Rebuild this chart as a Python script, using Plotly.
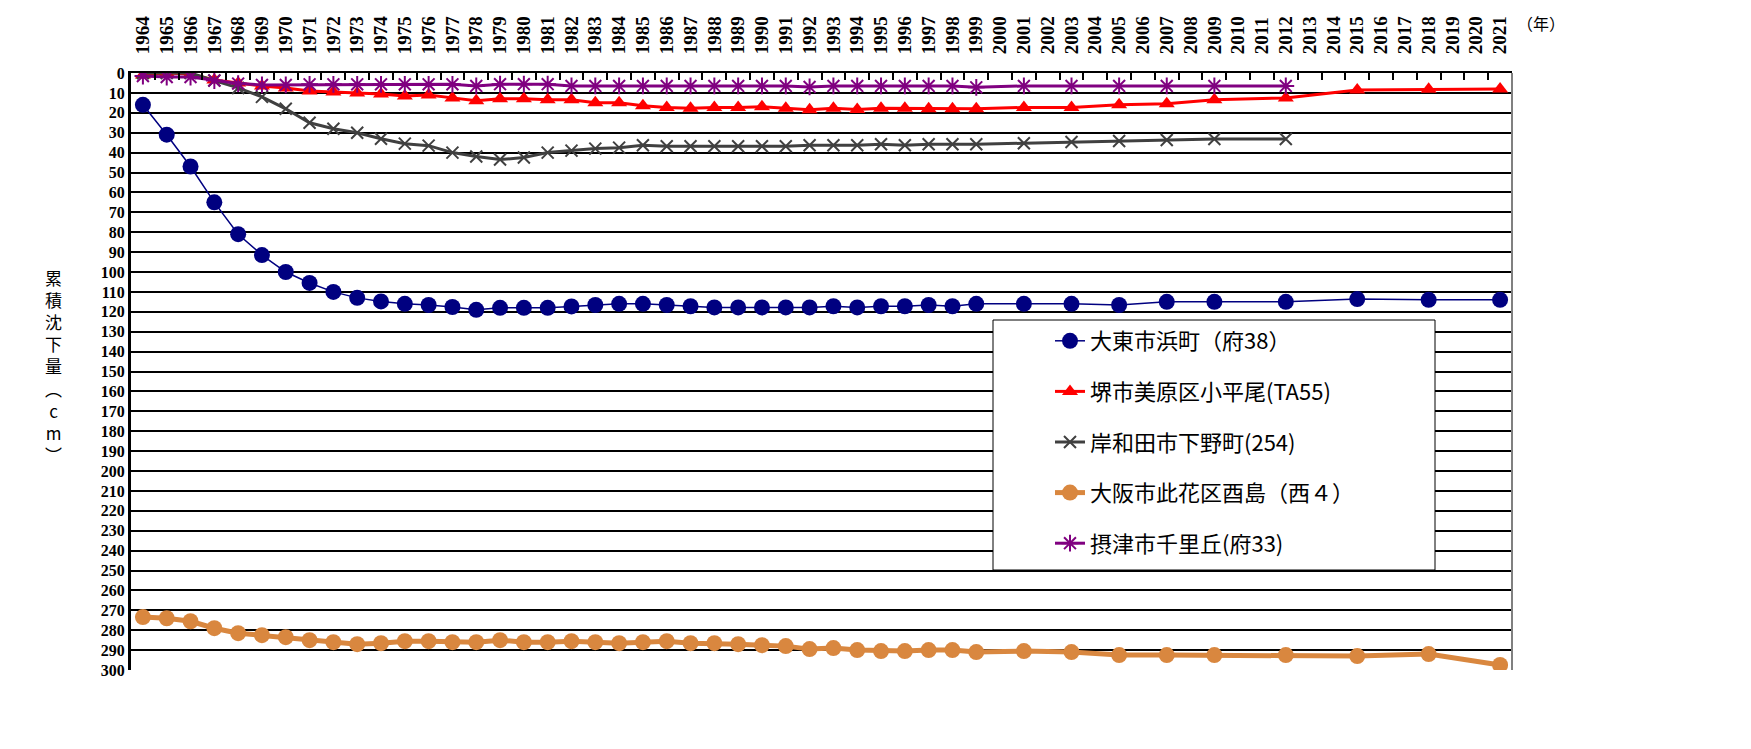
import plotly.graph_objects as go

years = list(range(1964, 2022))
year_labels = [str(y) for y in years]
y_ticks = list(range(0, 301, 10))

series_names = ["大東市浜町（府38）", "堺市美原区小平尾(TA55)", "岸和田市下野町(254)",
                "大阪市此花区酉島（西４）", "摂津市千里丘(府33)"]

N = None
# 1964 ... 1999 (36 values), then 2000 ... 2021
daito = [16, 31, 47, 65, 81, 91.5, 100, 105.5, 110, 113, 114.8, 116, 116.6, 117.6, 119, 118, 118, 118,
         117.3, 116.6, 116, 116, 116.6, 117.2, 117.8, 117.8, 117.8, 117.8, 117.8, 117.2, 117.8, 117.2,
         117.2, 116.6, 117.2, 116,
         N, 116, N, 116, N, 116.6, N, 115, N, 115, N, N, 115, N, N, 113.6, N, N, 114, N, N, 114]
sakai = [1, 0, 0.5, 3.5, 5, 6.5, 7.5, 9, 9.5, 10, 10.5, 11.5, 11, 12.5, 14, 13, 13, 13.5,
         13.5, 15, 15, 16.5, 17.3, 17.7, 17.3, 17.3, 17, 17.7, 18.5, 17.7, 18.3, 17.7,
         17.7, 18, 18, 18,
         N, 17.3, N, 17.3, N, 16, N, 15.5, N, 13.5, N, N, 12.5, N, N, 8.5, N, N, 8.2, N, N, 8]
kishiwada = [0, 0, 0, 3.8, 7.5, 12, 18, 25, 28, 30, 33, 35.5, 36.5, 40, 42, 43.5, 42.5, 40,
             39, 38, 37.5, 36.3, 36.8, 36.8, 36.8, 36.8, 36.8, 36.8, 36.3, 36.3, 36.3, 35.8,
             36.3, 35.8, 35.8, 35.8,
             N, 35.3, N, 34.7, N, 34.2, N, 33.7, N, 33.2, N, N, 33.2, N, N, N, N, N, N, N, N, N]
osaka = [273.4, 274, 275.5, 279, 281.5, 282.5, 283.5, 285, 286, 287, 286.5, 285.5, 285.5, 286, 286, 285,
         286, 286, 285.5, 286, 286.5, 286, 285.5, 286.5, 286.5, 287, 287.5, 288, 289.5, 289, 290, 290.5,
         290.5, 290, 290, 291,
         N, 290.5, N, 291, N, 292.5, N, 292.5, N, 292.5, N, N, 292.5, N, N, 293, N, N, 292, N, N, 297.5]
settsu = [1.5, 2, 2, 3.8, 5.3, 6, 6, 5.7, 5.7, 5.7, 5.7, 5.7, 5.7, 5.7, 6.5, 5.6, 5.6, 5.6,
          6.5, 6.5, 6.5, 6.5, 6.5, 6.5, 6.5, 6.5, 6.5, 6.5, 7, 6.5, 6.5, 6.5,
          6.5, 6.5, 6.5, 7.2,
          N, 6.5, N, 6.5, N, 6.5, N, 6.5, N, 6.5, N, N, 6.5, N, N, N, N, N, N, N, N, N]

styles = [
    dict(color="#000080", width=1.5, symbol="circle", size=16, mlw=0),
    dict(color="#FF0000", width=3, symbol="triangle-up", size=14, mlw=0),
    dict(color="#404040", width=3, symbol="x-thin-open", size=12, mlw=2),
    dict(color="#D9873F", width=5, symbol="circle", size=16, mlw=0),
    dict(color="#800080", width=3, symbol="asterisk-open", size=14, mlw=2),
]

fig = go.Figure()
for name, vals, st in zip(series_names, [daito, sakai, kishiwada, osaka, settsu], styles):
    fig.add_trace(go.Scatter(
        x=year_labels, y=vals, name=name, legendgroup=name, mode="lines+markers",
        connectgaps=True,
        line=dict(color=st["color"], width=st["width"]),
        marker=dict(symbol=st["symbol"], size=st["size"], color=st["color"],
                    line=dict(color=st["color"], width=st["mlw"])),
    ))

W, H = 1751, 749
L, R, T, B = 123, 1504, 65, 662
pw, ph = R - L, B - T

def px(x):
    return (x - L) / pw

def py(y):
    return (B - y) / ph

fig.update_layout(
    width=W, height=H,
    margin=dict(l=L, r=W - R, t=T, b=H - B, pad=0),
    paper_bgcolor="white", plot_bgcolor="white",
    showlegend=True,
    legend=dict(x=px(1042), y=py(312), xanchor="left", yanchor="top",
                bgcolor="rgba(0,0,0,0)", borderwidth=0,
                font=dict(family="Noto Sans CJK JP", size=22, color="black"),
                tracegroupgap=19),
    xaxis=dict(type="category", categoryorder="array", categoryarray=year_labels,
               range=[-0.5, len(year_labels) - 0.5], autorange=False, automargin=False,
               tickmode="array", tickvals=year_labels, ticktext=year_labels,
               side="top", tickangle=-90, tickson="boundaries",
               ticks="inside", ticklen=7, tickwidth=1.5, tickcolor="black",
               showline=True, linecolor="black", linewidth=2, showgrid=False,
               tickfont=dict(family="Liberation Serif", size=19, color="black", weight="bold"),
               ticklabelstandoff=13),
    yaxis=dict(range=[300, 0], autorange=False, automargin=False,
               tickvals=y_ticks, ticktext=[str(v) for v in y_ticks],
               showgrid=True, gridcolor="black", gridwidth=1.5, zeroline=False,
               showline=True, linecolor="black", linewidth=3, ticks="",
               tickfont=dict(family="Liberation Serif", size=16, color="black", weight="bold")),
    shapes=[
        dict(type="line", xref="paper", yref="paper", x0=1, x1=1, y0=0, y1=1,
             line=dict(color="#808080", width=2)),
        dict(type="rect", xref="paper", yref="paper", layer="above",
             x0=px(985), x1=px(1427), y0=py(562), y1=py(312),
             fillcolor="white", line=dict(color="black", width=1)),
    ],
    annotations=[
        dict(text="（年）", xref="paper", yref="paper", x=px(1533), y=py(15),
             xanchor="center", yanchor="middle",
             showarrow=False, font=dict(family="Noto Sans CJK JP", size=16, color="black")),
        dict(text="累<br>積<br>沈<br>下<br>量<br>︵<br>c<br>m<br>︶", xref="paper", yref="paper",
             x=px(45), y=py(358), xanchor="center", yanchor="middle", showarrow=False,
             font=dict(family="Noto Sans CJK JP", size=17, color="black")),
    ],
)

fig.write_html("out.html")
